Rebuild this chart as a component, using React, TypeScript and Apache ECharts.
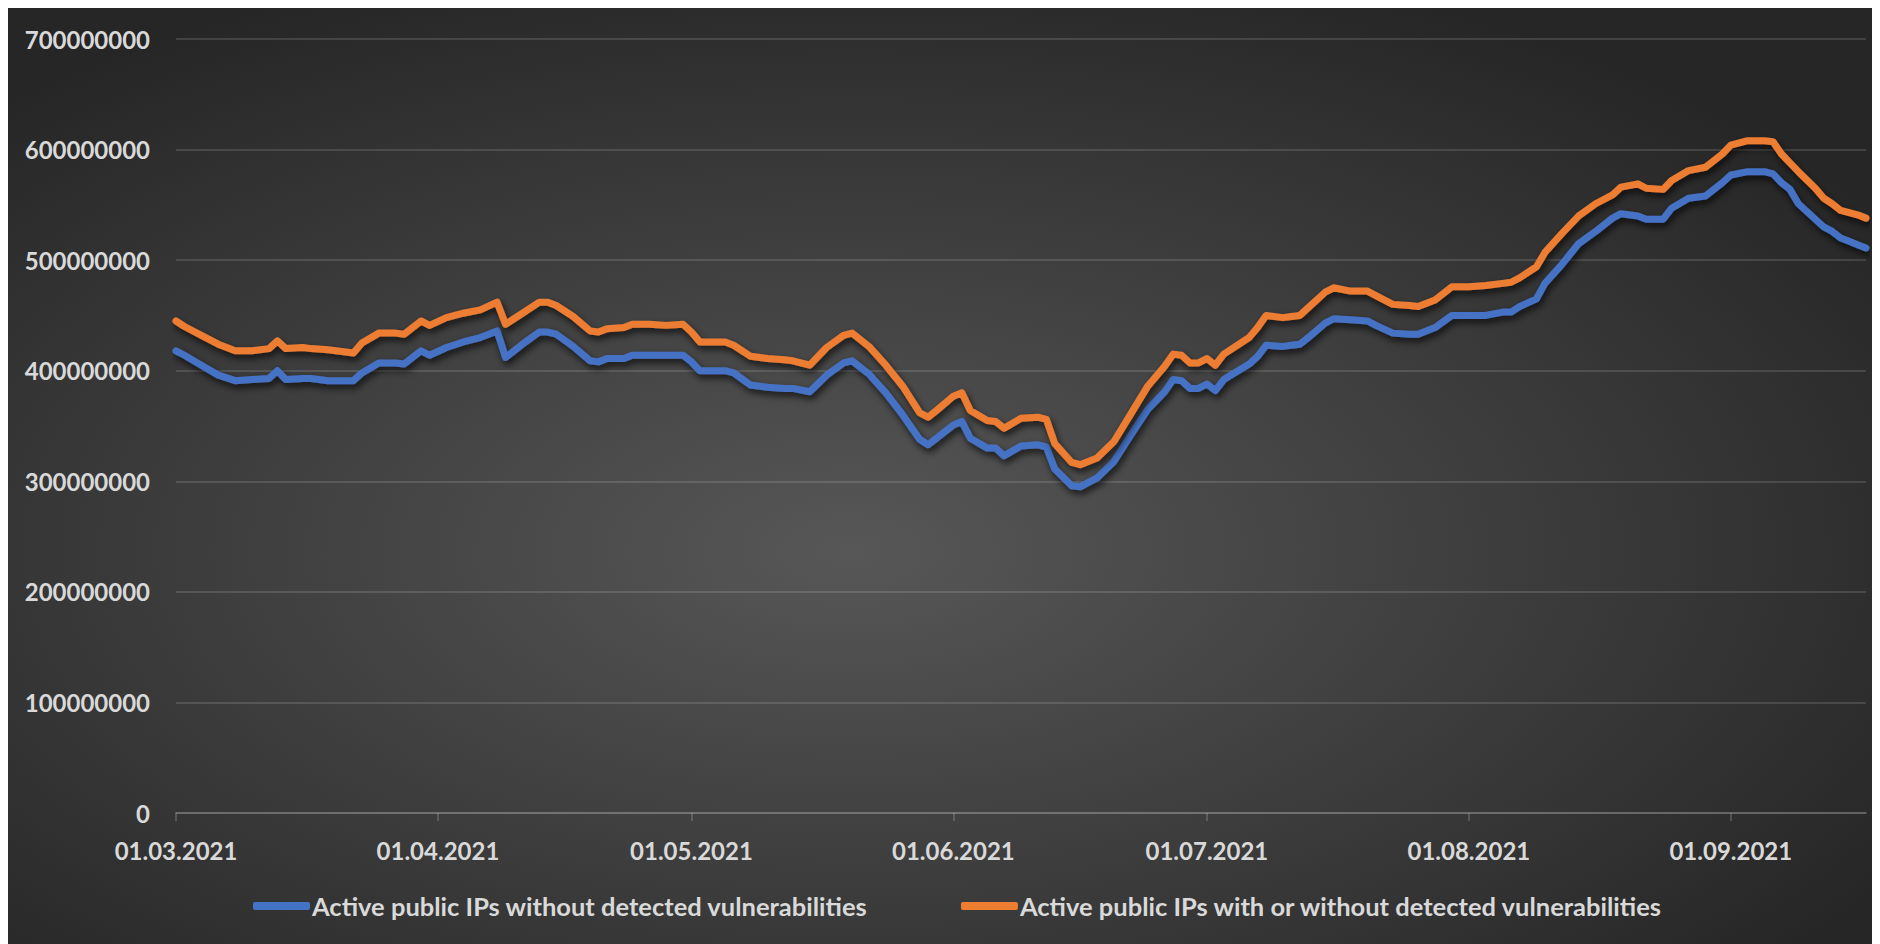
import React, { useEffect, useRef } from "react";
import * as echarts from "echarts";

// ---- data (values in millions) ----
const firstDay = "01.03.2021";
const lastDay = "17.09.2021";
const yMax = 700000000;
const yStep = 100000000;

const seriesNames = [
  "Active public IPs without detected vulnerabilities",
  "Active public IPs with or without detected vulnerabilities",
];

const keyDates = [
  "01.03.2021", "02.03.2021", "04.03.2021", "06.03.2021", "08.03.2021", "10.03.2021", "12.03.2021", "13.03.2021",
  "14.03.2021", "16.03.2021", "17.03.2021", "19.03.2021", "22.03.2021", "23.03.2021", "25.03.2021", "27.03.2021",
  "28.03.2021", "30.03.2021", "31.03.2021", "02.04.2021", "04.04.2021", "06.04.2021", "08.04.2021", "09.04.2021",
  "11.04.2021", "13.04.2021", "14.04.2021", "15.04.2021", "17.04.2021", "19.04.2021", "20.04.2021", "21.04.2021",
  "23.04.2021", "24.04.2021", "26.04.2021", "28.04.2021", "30.04.2021", "01.05.2021", "02.05.2021", "05.05.2021",
  "06.05.2021", "08.05.2021", "10.05.2021", "12.05.2021", "13.05.2021", "15.05.2021", "17.05.2021", "19.05.2021",
  "20.05.2021", "22.05.2021", "24.05.2021", "26.05.2021", "28.05.2021", "29.05.2021", "30.05.2021", "01.06.2021",
  "02.06.2021", "03.06.2021", "05.06.2021", "06.06.2021", "07.06.2021", "09.06.2021", "11.06.2021", "12.06.2021",
  "13.06.2021", "15.06.2021", "16.06.2021", "18.06.2021", "20.06.2021", "22.06.2021", "24.06.2021", "26.06.2021",
  "27.06.2021", "28.06.2021", "29.06.2021", "30.06.2021", "01.07.2021", "02.07.2021", "03.07.2021", "06.07.2021",
  "07.07.2021", "08.07.2021", "10.07.2021", "11.07.2021", "12.07.2021", "13.07.2021", "15.07.2021", "16.07.2021",
  "18.07.2021", "20.07.2021", "21.07.2021", "23.07.2021", "25.07.2021", "26.07.2021", "28.07.2021", "30.07.2021",
  "01.08.2021", "03.08.2021", "05.08.2021", "06.08.2021", "07.08.2021", "09.08.2021", "10.08.2021", "12.08.2021",
  "14.08.2021", "16.08.2021", "18.08.2021", "19.08.2021", "21.08.2021", "22.08.2021", "24.08.2021", "25.08.2021",
  "27.08.2021", "29.08.2021", "31.08.2021", "01.09.2021", "03.09.2021", "05.09.2021", "06.09.2021", "07.09.2021",
  "08.09.2021", "09.09.2021", "11.09.2021", "12.09.2021", "13.09.2021", "14.09.2021", "15.09.2021", "16.09.2021",
  "17.09.2021",
];

const withoutVulns = [
  418, 414, 405, 396, 391, 392, 393, 400,
  392, 393, 393, 391, 391, 398, 407, 407,
  406, 418, 414, 421, 426, 430, 436, 412,
  424, 435, 435, 433, 422, 409, 408, 411,
  411, 414, 414, 414, 414, 408, 400, 400,
  398, 387, 385, 384, 384, 381, 396, 407,
  409, 397, 380, 360, 338, 333, 339, 351,
  354, 339, 330, 330, 323, 332, 333, 331,
  311, 296, 295, 303, 318, 342, 365, 381,
  392, 391, 384, 384, 388, 382, 392, 406,
  413, 423, 422, 423, 424, 430, 443, 447,
  446, 445, 441, 434, 433, 433, 439, 450,
  450, 450, 453, 453, 458, 465, 479, 496,
  515, 526, 538, 542, 540, 537, 537, 547,
  556, 558, 570, 577, 580, 580, 578, 570,
  564, 551, 537, 530, 526, 520, 517, 514,
  511,
];

const withOrWithoutVulns = [
  445, 440, 432, 424, 418, 418, 420, 427,
  420, 421, 420, 419, 416, 425, 434, 434,
  433, 445, 441, 448, 452, 455, 462, 442,
  452, 462, 462, 459, 449, 436, 435, 438,
  439, 442, 442, 441, 442, 435, 426, 426,
  423, 413, 411, 410, 409, 405, 421, 432,
  434, 422, 405, 386, 362, 358, 364, 377,
  380, 364, 355, 354, 348, 357, 358, 356,
  334, 317, 315, 321, 336, 361, 386, 404,
  415, 414, 407, 407, 411, 405, 415, 430,
  439, 450, 448, 449, 450, 457, 471, 475,
  472, 472, 468, 460, 459, 458, 464, 476,
  476, 477, 479, 480, 484, 494, 507, 524,
  540, 551, 559, 566, 569, 565, 564, 572,
  581, 584, 596, 604, 608, 608, 607, 596,
  588, 580, 565, 556, 551, 545, 543, 541,
  538,
];

const seriesColors = ["#4472C4", "#ED7D31"];

// ---- helpers ----
function parseDay(s: string) {
  const [d, m, y] = s.split(".").map(Number);
  return Date.UTC(y, m - 1, d);
}
function fmt(t: number) {
  const d = new Date(t);
  const p = (n: number) => (n < 10 ? "0" + n : "" + n);
  return p(d.getUTCDate()) + "." + p(d.getUTCMonth() + 1) + "." + d.getUTCFullYear();
}
function buildCategories() {
  const out: string[] = [];
  for (let t = parseDay(firstDay); t <= parseDay(lastDay); t += 86400000) out.push(fmt(t));
  return out;
}

export default function App() {
  const ref = useRef<HTMLDivElement>(null);

  useEffect(() => {
    document.documentElement.style.overflow = "hidden";
    document.body.style.overflow = "hidden";
    if (!ref.current) return;
    const chart = echarts.init(ref.current, undefined, { renderer: "svg" });
    const categories = buildCategories();
    const isMonthStart = (_i: number, v: string) => v.startsWith("01.");
    const textColor = "#d9d9d9";
    const font = "Lato, 'Open Sans', sans-serif";
    const lineColor = "rgba(255,255,255,0.16)";

    const mk = (vals: number[], i: number) => ({
      name: seriesNames[i],
      type: "line",
      data: keyDates.map((d, k) => [d, vals[k] * 1000000]),
      showSymbol: false,
      symbol: "none",
      color: seriesColors[i],
      itemStyle: { color: seriesColors[i] },
      lineStyle: {
        width: 7,
        color: seriesColors[i],
        cap: "round",
        join: "round",
        shadowColor: "rgba(0,0,0,0.7)",
        shadowBlur: 7,
        shadowOffsetX: 2,
        shadowOffsetY: 4,
      },
    });

    chart.setOption({
      animation: false,
      backgroundColor: new echarts.graphic.RadialGradient(0.45, 0.58, 0.66, [
        { offset: 0, color: "#575757" },
        { offset: 1, color: "#262626" },
      ]),
      grid: { left: 168, right: 14, top: 31, bottom: 131, containLabel: false },
      legend: {
        left: 240,
        top: 880,
        icon: "roundRect",
        itemWidth: 57,
        itemHeight: 8,
        itemGap: 93,
        textStyle: { color: textColor, fontSize: 25.5, fontWeight: "bold", fontFamily: font, padding: [0, 0, 0, -3] },
        data: seriesNames,
      },
      xAxis: {
        type: "category",
        data: categories,
        boundaryGap: false,
        axisLine: { show: true, lineStyle: { color: lineColor, width: 2 } },
        axisTick: { show: true, interval: isMonthStart, length: 8, lineStyle: { color: lineColor, width: 2 } },
        axisLabel: {
          interval: isMonthStart,
          color: textColor,
          fontSize: 24,
          fontWeight: "bold",
          fontFamily: font,
          margin: 25,
        },
        splitLine: { show: false },
      },
      yAxis: {
        type: "value",
        min: 0,
        max: yMax,
        interval: yStep,
        axisLine: { show: false },
        axisTick: { show: false },
        axisLabel: {
          color: textColor,
          fontSize: 24,
          fontWeight: "bold",
          fontFamily: font,
          margin: 26,
          formatter: (v: number) => String(v),
        },
        splitLine: { show: true, lineStyle: { color: "rgba(255,255,255,0.13)", width: 2 } },
      },
      series: [mk(withoutVulns, 0), mk(withOrWithoutVulns, 1)],
    });
    return () => chart.dispose();
  }, []);

  return <div ref={ref} style={{ width: 1872, height: 936 }} />;
}
